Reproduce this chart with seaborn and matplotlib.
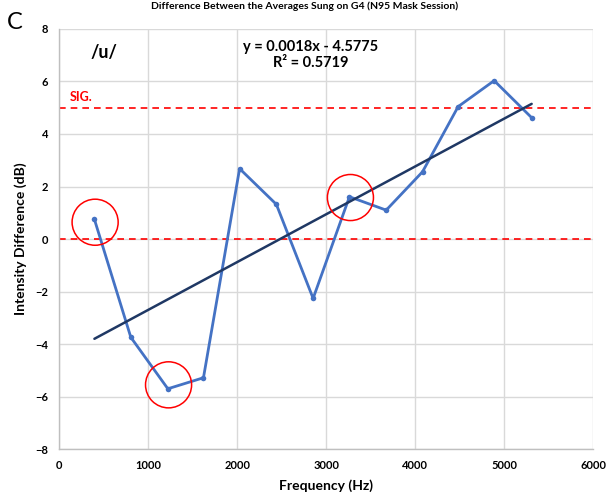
import matplotlib
matplotlib.use("Agg")
import matplotlib.pyplot as plt
import seaborn as sns
import pandas as pd

freq_hz = [397, 806, 1222, 1622, 2028, 2441, 2854, 3262, 3675, 4083, 4483, 4888, 5309]
diff_db = [0.75, -3.74, -5.70, -5.28, 2.68, 1.32, -2.26, 1.61, 1.10, 2.56, 5.04, 6.03, 4.62]
circle_x = [405, 1230, 3273]
circle_y = [0.64, -5.55, 1.58]
sig_levels = [0, 5]
x_ticks = [0, 1000, 2000, 3000, 4000, 5000, 6000]
y_ticks = [-8, -6, -4, -2, 0, 2, 4, 6, 8]

title = "Difference Between the Averages Sung on G4 (N95 Mask Session)"
equation = "y = 0.0018x - 4.5775\nR\u00b2 = 0.5719"

sns.set_theme(style="whitegrid")
plt.rcParams['font.family'] = ['Lato', 'DejaVu Sans']
plt.rcParams['text.color'] = 'black'
plt.rcParams['axes.labelcolor'] = 'black'
plt.rcParams['xtick.color'] = 'black'
plt.rcParams['ytick.color'] = 'black'

df = pd.DataFrame({"Frequency (Hz)": freq_hz, "Intensity Difference (dB)": diff_db})

fig = plt.figure(figsize=(6.09, 4.98), dpi=100)
ax = fig.add_axes([0.097, 0.098, 0.877, 0.844])

sns.lineplot(data=df, x="Frequency (Hz)", y="Intensity Difference (dB)", ax=ax,
             color="#4472C4", linewidth=2, marker="o", markersize=4,
             markeredgewidth=0, zorder=3)
sns.regplot(data=df, x="Frequency (Hz)", y="Intensity Difference (dB)", ax=ax,
            scatter=False, ci=None, line_kws=dict(color="#1F3864", linewidth=1.8, zorder=4))

for lvl in sig_levels:
    ax.axhline(lvl, color="red", linestyle=(0, (4, 3)), linewidth=1.2, zorder=2)

ax.scatter(circle_x, circle_y, s=1100, facecolors="none", edgecolors="red",
           linewidths=1.1, zorder=5)

ax.set_xlim(0, 6000)
ax.set_ylim(-8, 8)
ax.set_xticks(x_ticks)
ax.set_yticks(y_ticks)
for lab in ax.get_xticklabels() + ax.get_yticklabels():
    lab.set_fontweight("bold")
    lab.set_fontsize(8)
    lab.set_color("black")
ax.tick_params(axis="both", length=0, pad=8)
ax.set_xlabel("Frequency (Hz)", fontsize=10, fontweight="bold", labelpad=6, color="black")
ax.set_ylabel("Intensity Difference (dB)", fontsize=10, fontweight="bold", labelpad=6, color="black")

ax.grid(True, color="#d9d9d9", linewidth=1)
for side in ["top", "right"]:
    ax.spines[side].set_visible(False)
for side in ["left", "bottom"]:
    ax.spines[side].set_color("#bfbfbf")
    ax.spines[side].set_linewidth(1)

ax.text(124, 5.4, "SIG.", color="red", fontsize=9, fontweight="bold", ha="left", va="center")
ax.text(500, 7.1, "/u/", color="black", fontsize=13, fontweight="bold", ha="center", va="center")
ax.text(2830, 7.0, equation, color="black", fontsize=10.5, fontweight="bold",
        ha="center", va="center", linespacing=1.2)

fig.text(0.5, 0.988, title, ha="center", va="center", fontsize=7.5, fontweight="bold")
fig.text(0.025, 0.955, "C", ha="center", va="center", fontsize=17)

fig.savefig("out.png", dpi=100)
